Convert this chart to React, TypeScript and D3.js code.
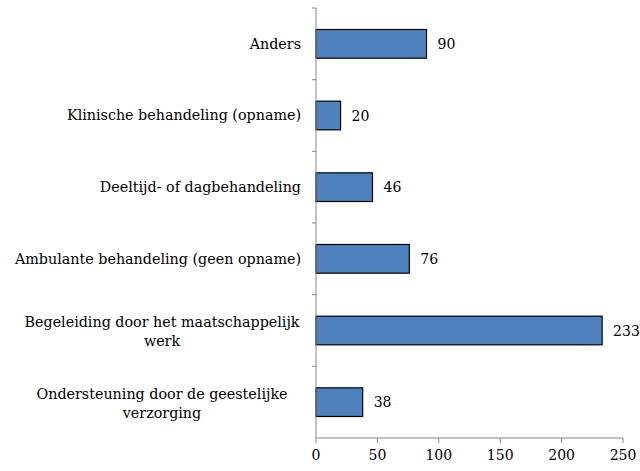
import React from 'react'
import { scaleLinear, scaleBand } from 'd3'

const categories = [
  ['Anders'],
  ['Klinische behandeling (opname)'],
  ['Deeltijd- of dagbehandeling'],
  ['Ambulante behandeling (geen opname)'],
  ['Begeleiding door het maatschappelijk', 'werk'],
  ['Ondersteuning door de geestelijke', 'verzorging'],
]
const values = [90, 20, 46, 76, 233, 38]
const xTicks = [0, 50, 100, 150, 200, 250]

const App = () => {
  const width = 640
  const height = 471
  const margin = { top: 8, right: 17, bottom: 33, left: 316 }
  const innerWidth = width - margin.left - margin.right
  const innerHeight = height - margin.top - margin.bottom

  const keys = categories.map((c, i) => String(i))
  const yScale = scaleBand().domain(keys).range([0, innerHeight]).paddingInner(0.6).paddingOuter(0.3)
  const xScale = scaleLinear().domain([0, 250]).range([0, innerWidth])
  const step = innerHeight / categories.length
  const font = "'DejaVu Serif', serif"
  const axisColor = '#868686'

  return (
    <svg width={width} height={height} style={{ display: 'block', position: 'absolute', left: 0, top: 0 }}>
      <g transform={`translate(${margin.left},${margin.top})`} style={{ fontFamily: font }} fill='#000'>
        {values.map((v, i) => (
          <g key={i}>
            <rect
              x={0}
              y={yScale(String(i))}
              width={xScale(v)}
              height={yScale.bandwidth()}
              fill='#4F81BD'
              stroke='#000'
              strokeWidth={1.2}
            />
            <text
              x={xScale(v) + 11}
              y={(yScale(String(i)) as number) + yScale.bandwidth() / 2}
              dy='0.38em'
              fontSize={14}
            >{v}</text>
            <text
              x={-15}
              y={(yScale(String(i)) as number) + yScale.bandwidth() / 2}
              fontSize={14.3}
              textAnchor={categories[i].length > 1 ? 'middle' : 'end'}
            >
              {categories[i].map((line, j) => (
                <tspan
                  key={j}
                  x={categories[i].length > 1 ? -154 : -15}
                  dy={j === 0 ? (categories[i].length > 1 ? '-0.25em' : '0.33em') : '1.35em'}
                >{line}</tspan>
              ))}
            </text>
          </g>
        ))}

        <line x1={0} x2={0} y1={0} y2={innerHeight} stroke={axisColor} />
        {categories.map((c, i) => (
          <line key={i} x1={-4} x2={0} y1={i * step} y2={i * step} stroke={axisColor} />
        ))}

        <line x1={0} x2={innerWidth} y1={innerHeight} y2={innerHeight} stroke={axisColor} />
        {xTicks.map(t => (
          <g key={t} transform={`translate(${xScale(t)},${innerHeight})`}>
            <line y1={0} y2={5} stroke={axisColor} />
            <text y={22} textAnchor='middle' fontSize={14}>{t}</text>
          </g>
        ))}
      </g>
    </svg>
  )
}

export default App
